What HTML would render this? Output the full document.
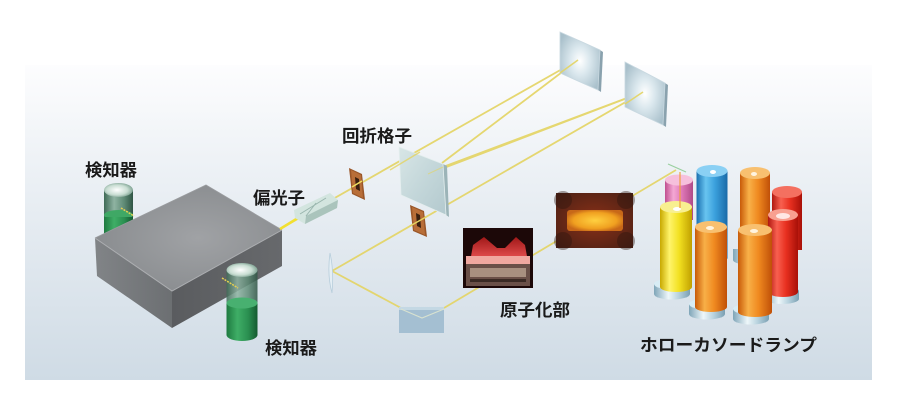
<!DOCTYPE html>
<html><head><meta charset="utf-8"><style>
html,body{margin:0;padding:0;background:#fff;}
svg{display:block;}
text{font-family:"Liberation Sans","Noto Sans CJK JP",sans-serif;font-weight:bold;font-size:17px;fill:#1a1a1a;}
</style></head><body>
<svg width="897" height="405" viewBox="0 0 897 405" xmlns="http://www.w3.org/2000/svg">
<defs>
<linearGradient id="panel" x1="0" y1="0" x2="0" y2="1">
<stop offset="0" stop-color="#fdfdfe"/><stop offset="0.3" stop-color="#eef2f6"/><stop offset="1" stop-color="#cfdbe5"/>
</linearGradient>
<radialGradient id="boxtop" cx="0.55" cy="0.5" r="0.6">
<stop offset="0" stop-color="#a0a2a5"/><stop offset="1" stop-color="#888b8e"/>
</radialGradient>
<linearGradient id="boxl" x1="0" y1="0" x2="1" y2="0"><stop offset="0" stop-color="#818487"/><stop offset="1" stop-color="#6c6f72"/></linearGradient>
<linearGradient id="boxr" x1="0" y1="0" x2="1" y2="0"><stop offset="0" stop-color="#5a5c5f"/><stop offset="1" stop-color="#67696c"/></linearGradient>
<linearGradient id="detg" x1="0" y1="0" x2="1" y2="0"><stop offset="0" stop-color="#3f6a56"/><stop offset="0.35" stop-color="#8fb3a2"/><stop offset="0.7" stop-color="#5e8a75"/><stop offset="1" stop-color="#2f5444"/></linearGradient>
<linearGradient id="detgreen" x1="0" y1="0" x2="1" y2="0"><stop offset="0" stop-color="#1e7a40"/><stop offset="0.35" stop-color="#3fae66"/><stop offset="0.7" stop-color="#2a8f50"/><stop offset="1" stop-color="#145a30"/></linearGradient>
<radialGradient id="detcap" cx="0.45" cy="0.5" r="0.6"><stop offset="0" stop-color="#ffffff"/><stop offset="0.6" stop-color="#c8ddd2"/><stop offset="1" stop-color="#6e9584"/></radialGradient>
<radialGradient id="mir" cx="0.5" cy="0.5" r="0.6"><stop offset="0" stop-color="#ffffff"/><stop offset="0.4" stop-color="#dbe8ee"/><stop offset="1" stop-color="#a9c0cb"/></radialGradient>
<linearGradient id="grat" x1="0" y1="0" x2="1" y2="1"><stop offset="0" stop-color="#d8e6e6"/><stop offset="0.5" stop-color="#c4d7da"/><stop offset="1" stop-color="#b3c9ce"/></linearGradient>
<linearGradient id="cY" x1="0" y1="0" x2="1" y2="0"><stop offset="0" stop-color="#c8a800"/><stop offset="0.3" stop-color="#fff46a"/><stop offset="0.6" stop-color="#f2e020"/><stop offset="1" stop-color="#c0a000"/></linearGradient>
<linearGradient id="cB" x1="0" y1="0" x2="1" y2="0"><stop offset="0" stop-color="#1a70b0"/><stop offset="0.3" stop-color="#68c4f0"/><stop offset="0.6" stop-color="#3aa0dc"/><stop offset="1" stop-color="#1a6aa8"/></linearGradient>
<linearGradient id="cO" x1="0" y1="0" x2="1" y2="0"><stop offset="0" stop-color="#c85a08"/><stop offset="0.3" stop-color="#f8b048"/><stop offset="0.6" stop-color="#f08a20"/><stop offset="1" stop-color="#c05008"/></linearGradient>
<linearGradient id="cR" x1="0" y1="0" x2="1" y2="0"><stop offset="0" stop-color="#b01810"/><stop offset="0.3" stop-color="#f86050"/><stop offset="0.6" stop-color="#e83020"/><stop offset="1" stop-color="#a81008"/></linearGradient>
<linearGradient id="cP" x1="0" y1="0" x2="1" y2="0"><stop offset="0" stop-color="#c05090"/><stop offset="0.3" stop-color="#f4a8d4"/><stop offset="0.6" stop-color="#e07ab8"/><stop offset="1" stop-color="#b04a88"/></linearGradient>
<linearGradient id="base" x1="0" y1="0" x2="1" y2="0"><stop offset="0" stop-color="#7fa5b8"/><stop offset="0.4" stop-color="#eef7fa"/><stop offset="0.7" stop-color="#b5d0dc"/><stop offset="1" stop-color="#7a9fb2"/></linearGradient>
<linearGradient id="flame" x1="0" y1="0" x2="0" y2="1"><stop offset="0" stop-color="#a01818"/><stop offset="1" stop-color="#f05858"/></linearGradient>
<radialGradient id="glow" cx="0.5" cy="0.5" r="0.55"><stop offset="0" stop-color="#ffd040"/><stop offset="0.7" stop-color="#f0a020"/><stop offset="1" stop-color="#c86818"/></radialGradient>
<radialGradient id="a2bg" cx="0.5" cy="0.5" r="0.7"><stop offset="0" stop-color="#8a3018"/><stop offset="1" stop-color="#4a2014"/></radialGradient>
</defs>

<rect x="25" y="65" width="847" height="315" fill="url(#panel)"/>

<g stroke="#e4d462" stroke-width="1.8" fill="none" opacity="0.9">
<line x1="280" y1="229" x2="578" y2="60"/>
<line x1="442" y1="163" x2="578" y2="60"/>
<line x1="428" y1="174" x2="643" y2="92"/>
<line x1="443" y1="167" x2="643" y2="92"/>
<line x1="332" y1="271" x2="643" y2="92"/>
<line x1="332" y1="271" x2="401" y2="308"/>
<line x1="444" y1="308" x2="676" y2="170"/>
</g>

<g>
<rect x="104" y="190" width="29" height="50" fill="url(#detg)"/>
<ellipse cx="118.5" cy="215" rx="14.5" ry="5" fill="#3fa865"/>
<rect x="104" y="217" width="29" height="23" fill="url(#detgreen)"/>
<ellipse cx="118.5" cy="190" rx="14.5" ry="7" fill="url(#detcap)"/>
<line x1="121" y1="208" x2="134" y2="216" stroke="#e8d050" stroke-width="1.5" stroke-dasharray="2 1"/>
</g>

<polygon points="95,238 206,185 282,230 172,291" fill="url(#boxtop)"/>
<polygon points="95,238 172,291 172,328 97,276" fill="url(#boxl)"/>
<polygon points="172,291 282,230 282,266 172,328" fill="url(#boxr)"/>
<polyline points="95,238 172,291 282,230" fill="none" stroke="#acaeb1" stroke-width="1"/>
<polyline points="95,238 206,185 282,230" fill="none" stroke="#9a9c9f" stroke-width="0.8"/>

<line x1="280" y1="229" x2="298" y2="218" stroke="#f2e030" stroke-width="2.6"/>

<g>
<rect x="226.5" y="270" width="31" height="34" fill="url(#detg)" opacity="0.85"/>
<path d="M226.5 303 L226.5 335 A15.5 6 0 0 0 257.5 335 L257.5 303 Z" fill="url(#detgreen)"/>
<ellipse cx="242" cy="303" rx="15.5" ry="5.5" fill="#48b070"/>
<ellipse cx="242" cy="270" rx="15.5" ry="7" fill="url(#detcap)"/>
<line x1="222" y1="278" x2="238" y2="288" stroke="#e8d050" stroke-width="1.5" stroke-dasharray="2 1"/>
</g>

<polygon points="294,210 330,193 338,200 337,208 305,224 295,218" fill="#d3e5df"/>
<polygon points="305,224 337,208 338,200 306,216" fill="#aac4bc"/>
<line x1="300" y1="214" x2="326" y2="198" stroke="#9ab6ae" stroke-width="1"/>
<line x1="306" y1="216" x2="316" y2="203" stroke="#9ab6ae" stroke-width="1"/>

<polygon points="349,168 362,174 365,200 352,194" fill="#9a5628"/>
<polygon points="351,170 361,175 363,198 353,193" fill="#b86e38"/>
<polygon points="355,177 359,179 360,191 356,189" fill="#3a2010"/>
<line x1="352" y1="187" x2="362" y2="181" stroke="#f0e060" stroke-width="1.5"/>

<polygon points="443,164 447,166 449,217 446,215" fill="#9cb4b8"/>
<polygon points="399,147 443,164 446,215 401,195" fill="url(#grat)" stroke="#e4eeee" stroke-width="0.8"/>
<line x1="390" y1="170" x2="420" y2="152" stroke="#e4d462" stroke-width="1.4" opacity="0.8"/>
<line x1="428" y1="174" x2="443" y2="167" stroke="#e4d462" stroke-width="1.2" opacity="0.6"/>

<polygon points="410,205 424,211 427,237 413,231" fill="#9a5628"/>
<polygon points="412,207 423,212 425,235 414,230" fill="#b86e38"/>
<polygon points="416,213 420,215 421,228 417,226" fill="#3a2010"/>
<line x1="410" y1="226" x2="426" y2="217" stroke="#e4d462" stroke-width="1.5"/>

<polygon points="600,50 603,52 601,92 598,90" fill="#8aa2ae"/>
<polygon points="560,32 600,50 598,90 560,73" fill="url(#mir)" stroke="#c8d8e0" stroke-width="0.8"/>
<polygon points="665,83 668,85 666,127 663,125" fill="#8aa2ae"/>
<polygon points="625,62 665,83 663,125 625,107" fill="url(#mir)" stroke="#c8d8e0" stroke-width="0.8"/>
<g stroke="#e4d462" stroke-width="1.6" opacity="0.9">
<line x1="560" y1="73" x2="578" y2="60"/>
<line x1="625" y1="104" x2="643" y2="92"/>
</g>

<path d="M330 253 Q334 270 332 293 Q327 275 330 253 Z" fill="#e4eef4" stroke="#b8cedc" stroke-width="0.8"/>

<rect x="399" y="307" width="45" height="26" fill="#a4bfd2"/>
<rect x="399" y="307" width="45" height="3" fill="#c4d8e4"/>
<polyline points="401,309 422,318 444,309" fill="none" stroke="#d8e2d0" stroke-width="1.2"/>

<rect x="463" y="228" width="70" height="60" fill="#1c0808"/>
<polygon points="470,262 473,245 484,237 497,248 505,248 516,237 525,245 528,262" fill="url(#flame)"/>
<rect x="466" y="256" width="64" height="8" fill="#f0a8a0"/>
<rect x="466" y="264" width="64" height="22" fill="#6a5048"/>
<rect x="470" y="268" width="56" height="9" fill="#a89080"/>
<rect x="470" y="279" width="56" height="3" fill="#3a2a24"/>

<rect x="556" y="193" width="77" height="55" fill="url(#a2bg)"/>
<circle cx="563" cy="200" r="9" fill="#2a1410" opacity="0.4"/>
<circle cx="626" cy="200" r="9" fill="#2a1410" opacity="0.4"/>
<circle cx="563" cy="241" r="9" fill="#2a1410" opacity="0.4"/>
<circle cx="626" cy="241" r="9" fill="#2a1410" opacity="0.4"/>
<rect x="567" y="210" width="56" height="21" rx="3" fill="url(#glow)"/>

<path d="M665 180 L665 220 L693 220 L693 180 Z" fill="url(#cP)"/>
<ellipse cx="679" cy="180" rx="14" ry="5.5" fill="#f6c0dc"/>
<path d="M696.5 171 L696.5 258 A15.5 5 0 0 0 727.5 258 L727.5 171 Z" fill="url(#cB)"/>
<ellipse cx="712" cy="171" rx="15.5" ry="6" fill="#8ad0f4"/>
<ellipse cx="713" cy="172" rx="3" ry="2" fill="#ffffff"/>
<path d="M733 249 L733 260 A18 5 0 0 0 769 260 L769 249 Z" fill="url(#base)"/>
<path d="M740 173 L740 252 A15 5 0 0 0 770 252 L770 173 Z" fill="url(#cO)"/>
<ellipse cx="755" cy="173" rx="15" ry="6" fill="#f8c070"/>
<ellipse cx="754" cy="174" rx="3" ry="2" fill="#fff4e0"/>
<path d="M772 192 L772 250 L802 250 L802 192 Z" fill="url(#cR)"/>
<ellipse cx="787" cy="192" rx="15" ry="6" fill="#f47060"/>
<path d="M654 284 L654 294 A18 5.5 0 0 0 690 294 L690 284 Z" fill="url(#base)"/>
<ellipse cx="672" cy="284" rx="18" ry="5.5" fill="#d8ecf4"/>
<path d="M660 207 L660 287 A16 5 0 0 0 692 287 L692 207 Z" fill="url(#cY)"/>
<ellipse cx="676" cy="207" rx="16" ry="6" fill="#f8f090"/>
<ellipse cx="677" cy="209" rx="4" ry="2" fill="#ffffff"/>
<path d="M765 289 L765 299 A17 5 0 0 0 799 299 L799 289 Z" fill="url(#base)"/>
<ellipse cx="782" cy="289" rx="17" ry="5" fill="#d8ecf4"/>
<path d="M768 215 L768 292 A15 5 0 0 0 798 292 L798 215 Z" fill="url(#cR)"/>
<ellipse cx="783" cy="215" rx="15" ry="6" fill="#f8a090"/>
<ellipse cx="783" cy="216" rx="7" ry="3" fill="#ffe8e4"/>
<path d="M689 304 L689 314 A18 5.5 0 0 0 725 314 L725 304 Z" fill="url(#base)"/>
<ellipse cx="707" cy="304" rx="18" ry="5.5" fill="#d8ecf4"/>
<path d="M695 227 L695 307 A16 5 0 0 0 727 307 L727 227 Z" fill="url(#cO)"/>
<ellipse cx="711" cy="227" rx="16" ry="6" fill="#f8c070"/>
<ellipse cx="710" cy="228" rx="4" ry="2" fill="#fff4e0"/>
<path d="M733 309 L733 319 A18 5.5 0 0 0 769 319 L769 309 Z" fill="url(#base)"/>
<ellipse cx="751" cy="309" rx="18" ry="5.5" fill="#d8ecf4"/>
<path d="M738 230 L738 312 A17 5 0 0 0 772 312 L772 230 Z" fill="url(#cO)"/>
<ellipse cx="755" cy="230" rx="17" ry="6" fill="#f8c070"/>
<ellipse cx="754" cy="231" rx="4" ry="2" fill="#fff4e0"/>
<line x1="668" y1="164" x2="686" y2="172" stroke="#9ad0a0" stroke-width="1.2"/>
<line x1="680" y1="172" x2="680" y2="208" stroke="#f0a040" stroke-width="1.2"/>

<text x="85" y="176" textLength="52" lengthAdjust="spacingAndGlyphs">検知器</text>
<text x="265" y="354" textLength="52" lengthAdjust="spacingAndGlyphs">検知器</text>
<text x="253" y="204" textLength="52" lengthAdjust="spacingAndGlyphs">偏光子</text>
<text x="342" y="142" textLength="70" lengthAdjust="spacingAndGlyphs">回折格子</text>
<text x="500" y="316" textLength="70" lengthAdjust="spacingAndGlyphs">原子化部</text>
<text x="640" y="351" textLength="177" lengthAdjust="spacingAndGlyphs">ホローカソードランプ</text>
</svg>
</body></html>
